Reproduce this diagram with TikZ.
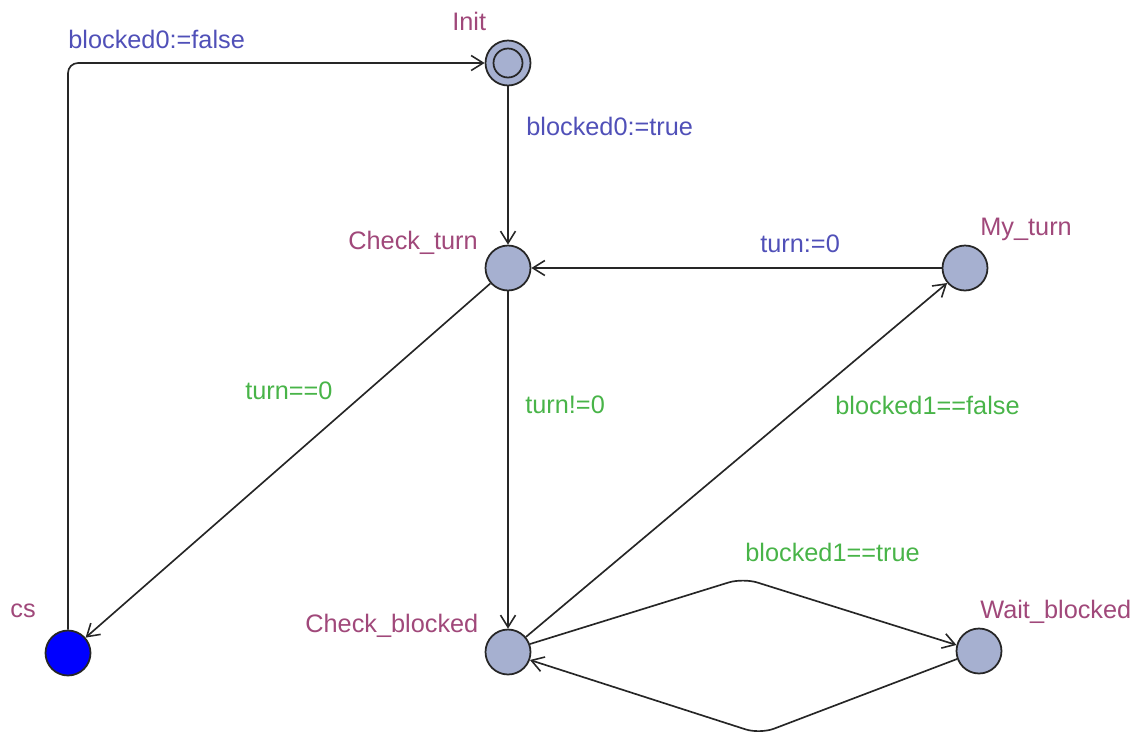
\documentclass[tikz,border=0pt]{standalone}
\usepackage{fontspec}
\setmainfont{Liberation Sans}
\usetikzlibrary{arrows.meta}
\definecolor{nodefill}{RGB}{166,176,208}
\definecolor{locname}{RGB}{160,72,122}
\definecolor{updcol}{RGB}{80,80,184}
\definecolor{grdcol}{RGB}{72,180,72}
\begin{document}
\begin{tikzpicture}[x=0.02cm,y=-0.02cm,
  loc/.style={circle,draw=black!85,line width=1pt,fill=nodefill,minimum size=0.9cm,inner sep=0pt},
  lbl/.style={anchor=west,inner sep=0pt,font=\fontsize{14.4pt}{16pt}\selectfont},
  lname/.style={lbl,text=locname},
  upd/.style={lbl,text=updcol},
  grd/.style={lbl,text=grdcol},
  edge/.style={draw=black!85,line width=0.95pt,-{Straight Barb[length=0.24cm,width=0.3cm,line width=0.9pt]},rounded corners=0.3cm}]
\useasboundingbox (0,0) rectangle (1136,735);
\node[loc] (Init) at (508,63) {};
\node[circle,draw=black!85,line width=1pt,minimum size=0.58cm,inner sep=0pt] (InitIn) at (Init) {};
\node[loc] (CT) at (508,268) {};
\node[loc] (MT) at (965,268) {};
\node[loc,fill=blue] (CS) at (68,653) {};
\node[loc] (CB) at (508,652) {};
\node[loc] (WB) at (979,651) {};
\coordinate (c1) at (68,63);
\coordinate (c2) at (743,578);
\coordinate (c3) at (760,734);
\draw[edge,rounded corners=0.2cm] (CS) -- (c1) -- (Init);
\draw[edge] (Init) -- (CT);
\draw[edge] (MT) -- (CT);
\draw[edge] (CT) -- (CS);
\draw[edge] (CT) -- (CB);
\draw[edge] (CB) -- (MT);
\draw[edge] (CB.20) -- (c2) -- (WB.165);
\draw[edge] (WB.200) -- (c3) -- (CB.340);
\node[lname] (tInit) at (452,21) {Init};
\node[lname] (tCT) at (348,243) {Check\_turn};
\node[lname] (tMT) at (980,229) {My\_turn};
\node[lname] (tCS) at (10,611) {cs};
\node[lname] (tCB) at (305,626) {Check\_blocked};
\node[lname] (tWB) at (980,612) {Wait\_blocked};
\node[upd] (u1) at (68,39) {blocked0:=false};
\node[upd] (u2) at (526,126) {blocked0:=true};
\node[upd] (u3) at (760,244) {turn:=0};
\node[grd] (g1) at (245,391) {turn==0};
\node[grd] (g2) at (525,405) {turn!=0};
\node[grd] (g3) at (835,405) {blocked1==false};
\node[grd] (g4) at (745,552) {blocked1==true};
\end{tikzpicture}
\end{document}
